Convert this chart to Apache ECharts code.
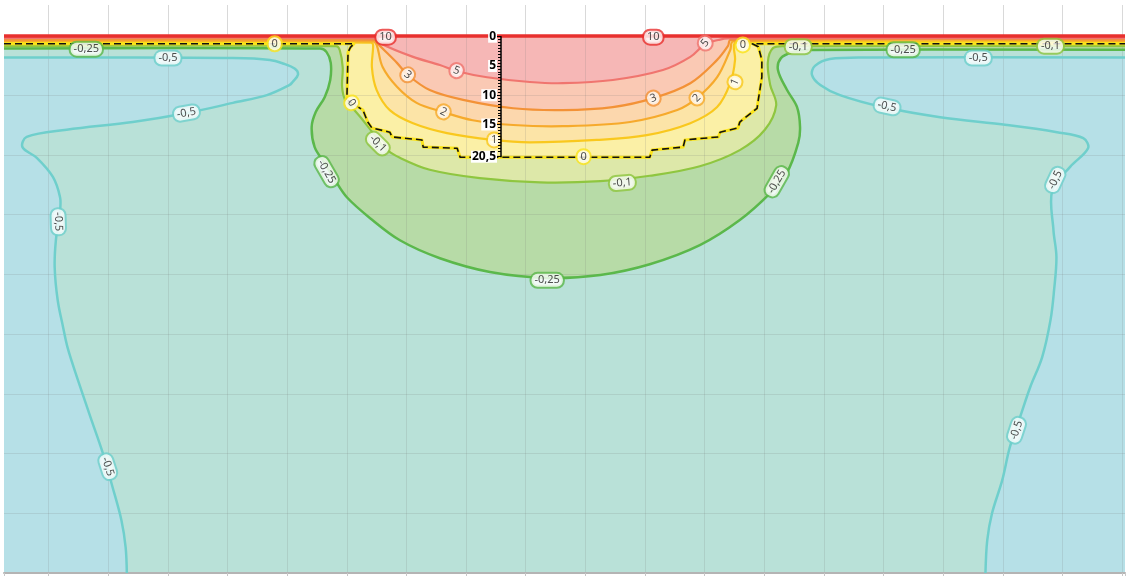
<!DOCTYPE html>
<html>
<head>
<meta charset="utf-8">
<script src="https://cdn.jsdelivr.net/npm/echarts@6/dist/echarts.min.js"></script>
<style>
html, body { margin: 0; padding: 0; background: #fff; }
#main { width: 1128px; height: 576px; }
</style>
</head>
<body>
<div id="main"></div>
<script>
// isotherms, points as [x, depth] in grid units (one grid square = 1)
var iso10 = [[0.25, 0.01], [19.05, 0.01]];
var iso5 = [[0.25, 0.045], [6.50, 0.05], [6.55, 0.127], [7.11, 0.36], [7.56, 0.495], [7.85, 0.60], [8.35, 0.70], [9.07, 0.78], [9.62, 0.80], [10.46, 0.747], [11.30, 0.58], [11.76, 0.36], [12.01, 0.144], [12.23, 0.077], [12.39, 0.05], [19.05, 0.045]];
var iso3 = [[0.25, 0.07], [6.47, 0.075], [6.52, 0.14], [6.84, 0.46], [7.02, 0.66], [7.39, 0.915], [7.95, 1.08], [8.79, 1.22], [9.62, 1.25], [10.46, 1.20], [11.14, 1.05], [11.76, 0.80], [12.21, 0.41], [12.39, 0.18], [12.44, 0.075], [19.05, 0.07]];
var iso2 = [[0.25, 0.09], [6.44, 0.10], [6.50, 0.16], [6.60, 0.53], [6.84, 0.86], [7.17, 1.13], [7.61, 1.28], [8.11, 1.42], [8.79, 1.50], [9.62, 1.52], [10.75, 1.45], [11.54, 1.25], [11.87, 1.05], [12.21, 0.70], [12.43, 0.245], [12.48, 0.10], [19.05, 0.09]];
var iso1 = [[0.25, 0.11], [6.40, 0.12], [6.44, 0.16], [6.42, 0.53], [6.50, 0.915], [6.72, 1.25], [7.11, 1.47], [7.68, 1.635], [8.45, 1.75], [9.07, 1.79], [10.19, 1.75], [11.03, 1.67], [11.76, 1.47], [12.21, 1.20], [12.43, 0.80], [12.51, 0.41], [12.49, 0.18], [12.53, 0.12], [19.05, 0.11]];
// 0 isotherm = foundation outline (stepped)
var iso0 = [[0.25, 0.14], [6.12, 0.14], [6.06, 0.20], [6.02, 0.28], [6.00, 1.08], [6.27, 1.25], [6.35, 1.45], [6.42, 1.55], [6.72, 1.62], [6.76, 1.70], [7.26, 1.75], [7.28, 1.87], [7.85, 1.89], [7.90, 2.04], [11.08, 2.04], [11.12, 1.92], [11.64, 1.87], [11.67, 1.75], [12.23, 1.70], [12.26, 1.62], [12.56, 1.55], [12.59, 1.45], [12.88, 1.22], [12.90, 1.08], [12.96, 0.70], [12.96, 0.41], [12.90, 0.19], [12.80, 0.14], [19.05, 0.14]];
var isoM01 = [[0.25, 0.18], [5.82, 0.18], [5.88, 0.245], [5.93, 0.53], [5.92, 0.86], [5.97, 1.08], [6.08, 1.20], [6.27, 1.42], [6.44, 1.635], [6.64, 1.89], [6.89, 2.05], [7.39, 2.25], [8.23, 2.39], [9.24, 2.46], [10.25, 2.44], [11.08, 2.35], [11.92, 2.19], [12.59, 1.92], [13.01, 1.58], [13.20, 1.17], [13.10, 0.83], [13.06, 0.45], [13.15, 0.21], [13.38, 0.18], [19.05, 0.18]];
var isoM025 = [[0.25, 0.22], [5.55, 0.22], [5.66, 0.28], [5.73, 0.46], [5.72, 0.75], [5.63, 1.03], [5.48, 1.28], [5.41, 1.53], [5.46, 1.87], [5.63, 2.14], [5.80, 2.42], [6.00, 2.71], [6.39, 3.06], [6.89, 3.43], [7.56, 3.73], [8.40, 3.96], [9.36, 4.06], [10.25, 4.01], [11.08, 3.83], [11.92, 3.51], [12.59, 3.09], [13.10, 2.64], [13.38, 2.30], [13.57, 1.80], [13.60, 1.53], [13.55, 1.20], [13.38, 0.91], [13.23, 0.58], [13.28, 0.38], [13.48, 0.28], [13.72, 0.245], [19.05, 0.24]];
var isoM05L = [[0.25, 0.37], [1.86, 0.37], [4.09, 0.38], [4.71, 0.41], [4.93, 0.47], [5.13, 0.56], [5.18, 0.66], [5.09, 0.78], [5.04, 0.83], [4.66, 1.00], [4.09, 1.13], [3.32, 1.30], [2.41, 1.45], [1.30, 1.58], [0.63, 1.70], [0.56, 1.87], [0.80, 2.05], [1.07, 2.37], [1.19, 2.71], [1.19, 2.93], [1.12, 3.43], [1.10, 3.88], [1.15, 4.43], [1.24, 4.88], [1.32, 5.24], [1.49, 5.77], [1.69, 6.36], [1.91, 7.00], [2.07, 7.56], [2.22, 8.12], [2.29, 8.57], [2.31, 9.0]];
var isoM05R = [[16.71, 9.0], [16.74, 8.45], [16.82, 8.00], [16.99, 7.45], [17.12, 6.89], [17.29, 6.39], [17.46, 5.89], [17.66, 5.39], [17.80, 4.77], [17.86, 4.27], [17.90, 3.71], [17.85, 3.26], [17.83, 2.59], [18.13, 2.20], [18.43, 1.89], [18.35, 1.72], [17.91, 1.62], [17.07, 1.50], [15.95, 1.37], [14.99, 1.20], [14.27, 1.00], [13.94, 0.83], [13.80, 0.66], [13.85, 0.51], [14.10, 0.395], [14.78, 0.37], [19.05, 0.37]];

// contour labels: [level, x, depth] and their angle
var labelPos = [[-0.25, 1.63, 0.23], [-0.5, 3.00, 0.38], [0, 4.79, 0.14], [-0.5, 3.31, 1.30], [-0.25, 5.66, 2.28], [0, 6.08, 1.13], [-0.1, 6.52, 1.81], [10, 6.65, 0.03], [3, 7.02, 0.66], [5, 7.84, 0.59], [2, 7.62, 1.28], [1, 8.47, 1.75], [0, 9.97, 2.03], [-0.1, 10.62, 2.47], [-0.25, 9.36, 4.10], [10, 11.14, 0.03], [3, 11.14, 1.05], [2, 11.87, 1.05], [1, 12.51, 0.78], [5, 12.01, 0.13], [0, 12.64, 0.16], [-0.1, 13.57, 0.19], [-0.25, 13.21, 2.45], [-0.25, 15.33, 0.24], [-0.5, 16.59, 0.38], [-0.5, 15.06, 1.19], [-0.1, 17.80, 0.18], [-0.5, 17.88, 2.42], [-0.5, 17.23, 6.61], [-0.5, 1.99, 7.22], [-0.5, 1.16, 3.12]];
var labelRot = [0, 0, 0, 10, -60, -55, -45, 0, -40, -20, -25, 0, 0, 5, 0, 0, 20, 45, 65, 50, 0, 0, 60, 0, 0, -12, 0, 65, 72, -72, -88];

// depth scale in the middle
var depthTicks = [0, 5, 10, 15, 20.5];

var lineColor = { '10': '#e8302e', '5': '#f0756f', '3': '#f39237', '2': '#f6aa2c', '1': '#f9c81e', '0': '#fbe41b', '-0.1': '#8fc640', '-0.25': '#5bb84b', '-0.5': '#6fcfcc' };

var myChart = echarts.init(document.getElementById('main'));

function closeTop(pts) {
    var a = pts[0], b = pts[pts.length - 1];
    return [[-1, a[1]]].concat(pts, [[20, b[1]], [20, -1], [-1, -1]]);
}

function area(pts, color, smooth) {
    return {
        type: 'custom', xAxisIndex: 0, yAxisIndex: 0, clip: true, silent: true, z: 2,
        data: [[1, 1]],
        renderItem: function (params, api) {
            return {
                type: 'polygon',
                shape: { points: pts.map(function (p) { return api.coord(p); }), smooth: smooth },
                style: { fill: color }
            };
        }
    };
}

function iso(pts, color, width, smooth, dash, z, clip) {
    return {
        type: 'custom', xAxisIndex: 0, yAxisIndex: 0, clip: clip, silent: true, z: z,
        data: [[1, 1]],
        renderItem: function (params, api) {
            return {
                type: 'polyline',
                shape: { points: pts.map(function (p) { return api.coord(p); }), smooth: smooth },
                style: { stroke: color, lineWidth: width, fill: null, lineDash: dash || null, lineJoin: 'round' }
            };
        }
    };
}

var S = 0.35;
var series = [];
// filled bands, coldest first
series.push(area([[-1, -1], [20, -1], [20, 10], [-1, 10]], '#b6e0e7', 0));
series.push(area([[-1, isoM05L[0][1]]].concat(isoM05L, [[2.31, 10], [16.71, 10]], isoM05R, [[20, 0.37], [20, -1], [-1, -1]]), '#b9e1d8', S));
series.push(area(closeTop(isoM025), '#b7dba7', S));
series.push(area(closeTop(isoM01), '#dde8a9', S));
series.push(area(closeTop(iso0), '#fbf0a6', 0));
series.push(area(closeTop(iso1), '#fce4a7', S));
series.push(area(closeTop(iso2), '#fcd7ad', S));
series.push(area(closeTop(iso3), '#fac9b4', S));
series.push(area(closeTop(iso5), '#f6b7b6', S));

// isotherm lines
series.push(iso(isoM05L, lineColor['-0.5'], 2.5, S, null, 4, true));
series.push(iso(isoM05R, lineColor['-0.5'], 2.5, S, null, 4, true));
series.push(iso(isoM025, lineColor['-0.25'], 2.5, S, null, 4, true));
series.push(iso(isoM01, lineColor['-0.1'], 2.2, S, null, 4, true));
series.push(iso(iso1, lineColor['1'], 2.2, S, null, 4, true));
series.push(iso(iso2, lineColor['2'], 2.2, S, null, 4, true));
series.push(iso(iso3, lineColor['3'], 2.2, S, null, 4, true));
series.push(iso(iso5, lineColor['5'], 2.2, S, null, 4, true));
series.push(iso(iso0, lineColor['0'], 3, 0, null, 4.2, true));
series.push(iso(iso0, '#111', 1.6, 0, [7, 4], 4.4, true));
series.push(iso(iso10, lineColor['10'], 3.5, 0, null, 4.5, false));

// contour labels
series.push({
    type: 'scatter', xAxisIndex: 0, yAxisIndex: 0, z: 6, clip: false, silent: true,
    symbolSize: 1, itemStyle: { color: 'rgba(0,0,0,0)' },
    data: labelPos.map(function (l, i) {
        return {
            value: [l[1], l[2]],
            name: String(l[0]).replace('.', ','),
            label: { rotate: labelRot[i], borderColor: lineColor[String(l[0])] }
        };
    }),
    label: {
        show: true, position: 'inside',
        formatter: function (p) { return p.name; },
        color: '#222', fontSize: 11, fontFamily: 'Noto Sans',
        backgroundColor: '#fff', borderWidth: 2, borderRadius: 6, padding: [1, 3]
    }
});

var gridLine = 'rgba(120,120,120,0.17)';

var option = {
    animation: false,
    grid: [
        { left: 4, right: 3, top: 35.4, bottom: 3, outerBoundsMode: 'none' },
        { left: 4, right: 3, top: 5, height: 30.4, outerBoundsMode: 'none' },
        { left: 501, top: 36.7, height: 120, width: 1, outerBoundsMode: 'none' }
    ],
    xAxis: [
        {
            gridIndex: 0, type: 'value', min: 0.25, max: 19.05, minInterval: 1, maxInterval: 1, splitNumber: 19, z: 3,
            axisLabel: { show: false },
            axisLine: { show: true, onZero: false, lineStyle: { color: '#b4b4b4', width: 2 } },
            axisTick: { show: true, length: 3, lineStyle: { color: '#c8c8c8' } },
            splitLine: { show: true, showMinLine: false, showMaxLine: false, lineStyle: { color: gridLine } }
        },
        {
            gridIndex: 1, type: 'value', min: 0.25, max: 19.05, minInterval: 1, maxInterval: 1, splitNumber: 19,
            axisLabel: { show: false }, axisLine: { show: false }, axisTick: { show: false },
            splitLine: { show: true, showMinLine: false, showMaxLine: false, lineStyle: { color: '#d9d9d9' } }
        },
        { gridIndex: 2, type: 'value', min: 0, max: 1, show: false }
    ],
    yAxis: [
        {
            gridIndex: 0, type: 'value', inverse: true, min: 0, max: 9, interval: 1, z: 3,
            axisLabel: { show: false }, axisLine: { show: false }, axisTick: { show: false },
            splitLine: { show: true, showMinLine: false, showMaxLine: false, lineStyle: { color: gridLine } }
        },
        { gridIndex: 1, type: 'value', show: false },
        {
            gridIndex: 2, type: 'value', inverse: true, min: 0, max: 20.5, interval: 5, position: 'left', z: 7,
            axisLine: { show: true, onZero: false, lineStyle: { color: '#000', width: 1.5 } },
            axisTick: { show: true, length: 4, customValues: depthTicks, lineStyle: { color: '#000' } },
            minorTick: { show: true, splitNumber: 10, length: 3, lineStyle: { color: '#000' } },
            splitLine: { show: false },
            axisLabel: {
                customValues: depthTicks, margin: 4,
                formatter: function (v) { return v === 20 ? '' : String(v).replace('.', ','); },
                color: '#000', fontWeight: 'bold', fontSize: 12, fontFamily: 'Noto Sans',
                backgroundColor: '#fff', padding: [0, 1]
            }
        }
    ],
    series: series
};

myChart.setOption(option);
</script>
</body>
</html>
